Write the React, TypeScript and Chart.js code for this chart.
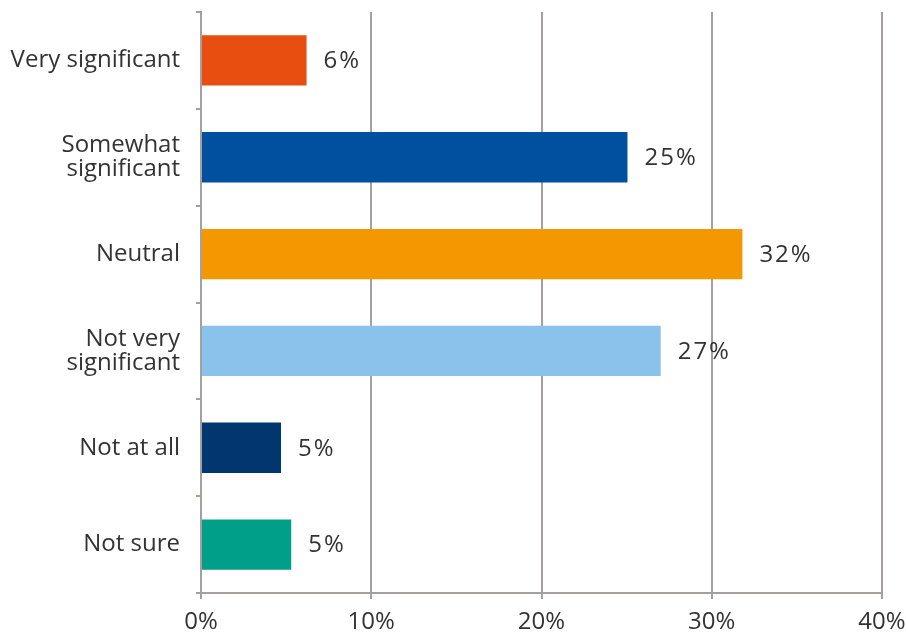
import React, { useEffect, useRef } from "react";
import { Chart, registerables } from "chart.js";

Chart.register(...registerables);

const categories: (string | string[])[] = [
  "Very significant",
  ["Somewhat", "significant"],
  "Neutral",
  ["Not very", "significant"],
  "Not at all",
  "Not sure",
];
const values = [6.2, 25.05, 31.8, 27.0, 4.7, 5.3];
const valueLabels = ["6%", "25%", "32%", "27%", "5%", "5%"];
const barColors = ["#E84E0F", "#0050A0", "#F39800", "#89C3EB", "#00376F", "#009F8A"];
const xTicks = [0, 10, 20, 30, 40];

const FONT = "'Open Sans', 'Noto Sans', sans-serif";
const TEXT = "#333333";
const GRID = "#a3a09d";

const valueLabelPlugin = {
  id: "valueLabels",
  afterDatasetsDraw(chart: any) {
    const ctx = chart.ctx;
    const meta = chart.getDatasetMeta(0);
    ctx.save();
    ctx.font = `24px ${FONT}`;
    ctx.fillStyle = TEXT;
    ctx.textAlign = "left";
    ctx.textBaseline = "middle";
    try {
      (ctx as any).letterSpacing = "2px";
    } catch (e) {}
    meta.data.forEach((bar: any, i: number) => {
      ctx.fillText(valueLabels[i], bar.x + 17, bar.y + 1);
    });
    ctx.restore();
  },
};

export default function App() {
  const ref = useRef<HTMLCanvasElement | null>(null);
  useEffect(() => {
    if (!ref.current) return;
    const chart = new Chart(ref.current, {
      type: "bar",
      data: {
        labels: categories,
        datasets: [
          {
            data: values,
            backgroundColor: barColors,
            borderWidth: 0,
            categoryPercentage: 1,
            barPercentage: 0.52,
          },
        ],
      },
      options: {
        indexAxis: "y",
        responsive: false,
        animation: false,
        layout: { padding: { top: 12, right: 24, left: 0, bottom: 0 } },
        plugins: {
          legend: { display: false },
          tooltip: { enabled: false },
        },
        scales: {
          x: {
            min: 0,
            max: 40,
            afterBuildTicks: (scale: any) => {
              scale.ticks = xTicks.map((v) => ({ value: v }));
            },
            afterFit: (scale: any) => {
              scale.height = 42;
              scale.paddingLeft = 0;
              scale.paddingRight = 0;
            },
            ticks: {
              callback: (v: any) => `${v}%`,
              font: { family: FONT, size: 24 },
              color: TEXT,
              padding: 9,
              maxRotation: 0,
              autoSkip: false,
            },
            grid: { color: GRID, lineWidth: 2, tickLength: 6 },
            border: { color: GRID, width: 2 },
          },
          y: {
            afterFit: (scale: any) => {
              scale.width = 201;
              scale.paddingTop = 0;
              scale.paddingBottom = 0;
            },
            ticks: {
              font: { family: FONT, size: 24, lineHeight: 1.0 },
              color: TEXT,
              padding: 16,
              autoSkip: false,
            },
            grid: {
              drawOnChartArea: false,
              color: GRID,
              lineWidth: 2,
              tickLength: 5,
              offset: true,
            },
            border: { color: GRID, width: 2 },
          },
        },
      },
      plugins: [valueLabelPlugin],
    });
    return () => chart.destroy();
  }, []);
  return (
    <div style={{ position: "absolute", left: 0, top: 0, width: 906, height: 635, background: "#fff" }}>
      <canvas ref={ref} width={906} height={635} />
    </div>
  );
}
